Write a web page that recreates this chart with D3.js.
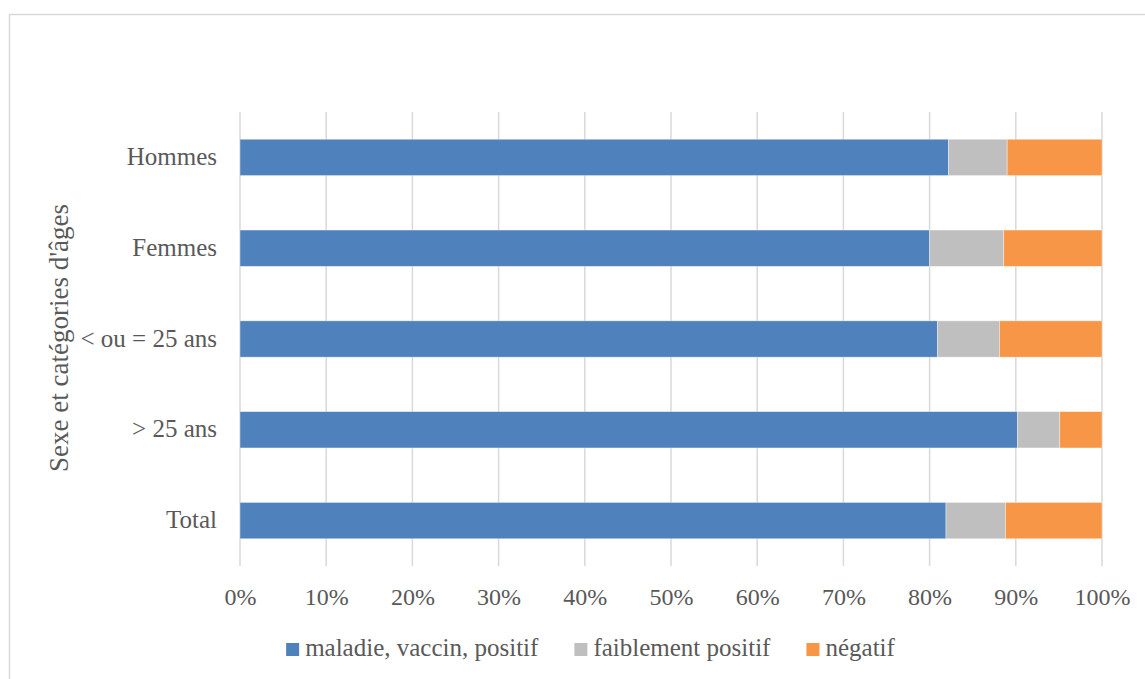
<!DOCTYPE html>
<html>
<head>
<meta charset="utf-8">
<script src="https://cdn.jsdelivr.net/npm/d3@7"></script>
<style>
  html, body { margin: 0; padding: 0; background: #fff; }
  svg { display: block; }
  text { font-family: "Liberation Serif", "Times New Roman", serif; fill: #595959; }
</style>
</head>
<body>
<svg id="chart" width="1145" height="679"></svg>
<script>
// Répartition des résultats (%) par sexe et catégorie d'âge
const categories = ["Hommes", "Femmes", "< ou = 25 ans", "> 25 ans", "Total"];
const seriesNames = ["maladie, vaccin, positif", "faiblement positif", "négatif"];
const seriesColors = ["#4F81BD", "#BFBFBF", "#F79646"];
const positif   = [82.2, 80.0, 80.9, 90.2, 81.9];
const faible    = [6.8, 8.6, 7.2, 4.9, 6.9];
const negatif   = [11.0, 11.4, 11.9, 4.9, 11.2];
const tickValues = [0, 10, 20, 30, 40, 50, 60, 70, 80, 90, 100];
const axisTitle = "Sexe et catégories d'âges";

const svg = d3.select("#chart");
const margin = { left: 240, right: 1102, top: 112, bottom: 566 };

// Chart area frame
svg.append("rect")
  .attr("x", 9.5).attr("y", 14.5)
  .attr("width", 1145).attr("height", 700)
  .attr("fill", "#fff")
  .attr("stroke", "#d9d9d9").attr("stroke-width", 1.5);

const rows = categories.map((c, i) => ({
  cat: c, positif: positif[i], faible: faible[i], negatif: negatif[i]
}));
const keys = ["positif", "faible", "negatif"];
const stack = d3.stack().keys(keys)(rows);

const x = d3.scaleLinear().domain([0, 100]).range([margin.left, margin.right]);
const y = d3.scaleBand().domain(categories)
  .range([margin.top, margin.bottom])
  .paddingInner(0.6).paddingOuter(0.3);

// Vertical gridlines
svg.append("g").selectAll("line").data(tickValues).join("line")
  .attr("x1", d => x(d)).attr("x2", d => x(d))
  .attr("y1", margin.top).attr("y2", margin.bottom)
  .attr("stroke", "#d9d9d9").attr("stroke-width", 1.5);

// Stacked bars
svg.append("g").selectAll("g").data(stack).join("g")
  .attr("fill", (d, i) => seriesColors[i])
  .selectAll("rect").data(d => d).join("rect")
  .attr("x", d => x(d[0]))
  .attr("width", d => x(d[1]) - x(d[0]))
  .attr("y", d => y(d.data.cat))
  .attr("height", y.bandwidth())
  .attr("stroke", "#ffffff").attr("stroke-opacity", 0.5).attr("stroke-width", 0.75);

// X axis tick labels
const xAxis = d3.axisBottom(x).tickValues(tickValues).tickFormat(d => d + "%").tickSize(0).tickPadding(0);
const gx = svg.append("g").attr("transform", `translate(0, ${margin.bottom})`).call(xAxis);
gx.select(".domain").remove();
gx.selectAll("text")
  .attr("y", 39).attr("dy", 0)
  .style("font-size", "24px")
  .style("font-family", "Liberation Serif, serif")
  .attr("fill", "#595959");

// Y axis category labels
const yAxis = d3.axisLeft(y).tickSize(0).tickPadding(0);
const gy = svg.append("g").attr("transform", `translate(${margin.left - 23}, 0)`).call(yAxis);
gy.select(".domain").remove();
gy.selectAll("text")
  .attr("dy", "0.3em")
  .style("font-size", "25px")
  .style("font-family", "Liberation Serif, serif")
  .attr("fill", "#595959");

// Y axis title
svg.append("text")
  .attr("transform", `translate(68, 338) rotate(-90)`)
  .attr("text-anchor", "middle")
  .style("font-size", "27px")
  .text(axisTitle);

// Legend
const legend = svg.append("g");
const items = legend.selectAll("g").data(seriesNames).join("g");
items.append("rect")
  .attr("width", 13).attr("height", 13).attr("y", -13)
  .attr("fill", (d, i) => seriesColors[i]);
items.append("text")
  .attr("x", 19).attr("y", 0)
  .style("font-size", "25px")
  .text(d => d);
const widths = [];
items.each(function() {
  widths.push(d3.select(this).select("text").node().getComputedTextLength() + 19);
});
const gap = 36;
const total = d3.sum(widths) + gap * (widths.length - 1);
let start = 590.5 - total / 2;
items.attr("transform", (d, i) => {
  const t = `translate(${start}, 656)`;
  start += widths[i] + gap;
  return t;
});
</script>
</body>
</html>
